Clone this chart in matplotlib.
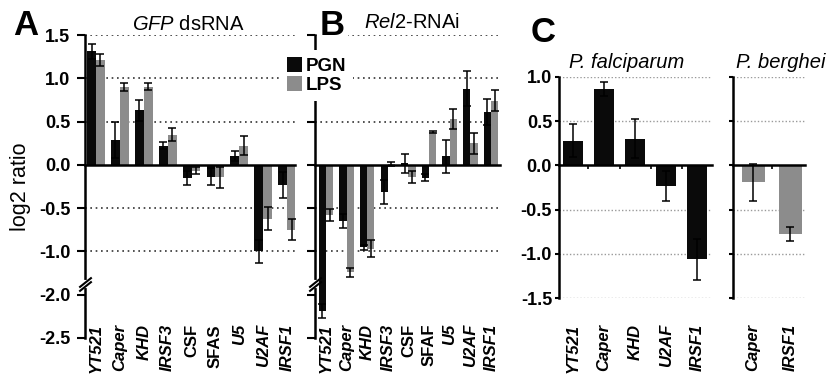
import numpy as np
import matplotlib
matplotlib.use('Agg')
import matplotlib.pyplot as plt
from matplotlib import transforms
from matplotlib.patches import Patch

plt.rcParams['font.family'] = ['Liberation Sans', 'DejaVu Sans']
plt.rcParams['mathtext.fontset'] = 'custom'
plt.rcParams['mathtext.rm'] = 'Liberation Sans'
plt.rcParams['mathtext.it'] = 'Liberation Sans:italic'
plt.rcParams['mathtext.bf'] = 'Liberation Sans:bold'
plt.rcParams['axes.unicode_minus'] = False

# ---------------- data ----------------
genes_a = ['YT521', 'Caper', 'KHD', 'IRSF3', 'CSF', 'SFAS', 'U5', 'U2AF', 'IRSF1']
italic_a = [True, True, True, True, False, False, True, True, True]
pgn_a = [1.31, 0.29, 0.63, 0.22, -0.15, -0.135, 0.10, -1.00, -0.23]
pgn_a_err = [0.09, 0.21, 0.12, 0.04, 0.08, 0.10, 0.06, 0.13, 0.15]
lps_a = [1.21, 0.90, 0.90, 0.35, -0.07, -0.145, 0.22, -0.62, -0.75]
lps_a_err = [0.07, 0.05, 0.04, 0.07, 0.04, 0.125, 0.11, 0.13, 0.12]

genes_b = ['YT521', 'Caper', 'KHD', 'IRSF3', 'CSF', 'SFAF', 'U5', 'U2AF', 'IRSF1']
italic_b = [True, True, True, True, False, False, True, True, True]
pgn_b = [-2.19, -0.65, -0.95, -0.31, 0.02, -0.15, 0.10, 0.88, 0.61]
pgn_b_err = [0.08, 0.08, 0.03, 0.14, 0.11, 0.04, 0.19, 0.20, 0.15]
lps_b = [-0.58, -1.24, -0.97, 0.01, -0.14, 0.38, 0.53, 0.25, 0.74]
lps_b_err = [0.07, 0.05, 0.10, 0.02, 0.07, 0.01, 0.12, 0.12, 0.12]

genes_pf = ['YT521', 'Caper', 'KHD', 'U2AF', 'IRSF1']
pgn_pf = [0.28, 0.86, 0.30, -0.23, -1.06]
pgn_pf_err = [0.19, 0.08, 0.22, 0.17, 0.23]

genes_pb = ['Caper', 'IRSF1']
lps_pb = [-0.19, -0.77]
lps_pb_err = [0.21, 0.08]

yticks_ab = [1.5, 1.0, 0.5, 0.0, -0.5, -1.0, -2.0, -2.5]
grid_ab = [1.5, 1.0, 0.5, -0.5, -1.0]
yticks_c = [1.0, 0.5, 0.0, -0.5, -1.0, -1.5]
grid_c = [1.0, 0.5, -0.5, -1.0, -1.5]

BLACK = '#0a0a0a'
GRAY = '#8c8c8c'

# broken-axis scale: values below the break are shifted up by 0.5
BRK = -1.35
S = 0.1
L = 0.5 / (1 - S)


def fwd(v):
    v = np.asarray(v, dtype=float)
    return np.where(v >= BRK, v,
                    np.where(v >= BRK - L, BRK + (v - BRK) * S, v + 0.5))


def inv(d):
    d = np.asarray(d, dtype=float)
    return np.where(d >= BRK, d,
                    np.where(d >= BRK - S * L, BRK + (d - BRK) / S, d - 0.5))


W, H = 829, 382
fig = plt.figure(figsize=(W / 100, H / 100), dpi=100)


def rect(x0, y_top, x1, y_bot):
    return [x0 / W, 1 - y_bot / H, (x1 - x0) / W, (y_bot - y_top) / H]


ax_a = fig.add_axes(rect(85, 35, 295, 338))
ax_b = fig.add_axes(rect(315, 35, 500, 338))
ax_pf = fig.add_axes(rect(559, 76.7, 712, 298.3))
ax_pb = fig.add_axes(rect(733, 76.7, 805, 298.3))

err_kw = dict(ecolor='black', elinewidth=1.1, capsize=3, capthick=1.1)
LAB_Y = 1 - 324 / H


def grouped(ax, genes, italic, pgn, pgn_err, lps, lps_err, w, xlim, labels):
    x = np.arange(len(genes))
    ax.set_yscale('function', functions=(fwd, inv))
    for g in grid_ab:
        ax.axhline(g, color='#333333', lw=1.2, ls=(0, (1, 2.2)), zorder=0.5)
    ax.bar(x - w / 2, pgn, w, color=BLACK, yerr=pgn_err, error_kw=err_kw, zorder=1)
    ax.bar(x + w / 2, lps, w, color=GRAY, yerr=lps_err, error_kw=err_kw, zorder=1)
    ax.set_xlim(*xlim)
    ax.set_ylim(-2.5, 1.5)
    ax.set_yticks(yticks_ab)
    if labels:
        ax.set_yticklabels(['%.1f' % t for t in yticks_ab], fontsize=13, fontweight='bold')
    else:
        ax.set_yticklabels([])
    ax.tick_params(axis='y', direction='out', length=5.5, width=1.5, pad=5)
    ax.spines['top'].set_visible(False)
    ax.spines['right'].set_visible(False)
    ax.spines['bottom'].set_position(('data', 0))
    ax.spines['bottom'].set_linewidth(1.8)
    ax.spines['left'].set_linewidth(1.8)
    ax.set_xticks([])
    ax.patch.set_alpha(0)
    tr = transforms.blended_transform_factory(ax.transData, fig.transFigure)
    for i, (g, it) in enumerate(zip(genes, italic)):
        ax.text(i, LAB_Y, g, transform=tr, rotation=90, va='top', ha='center',
                fontsize=12, fontweight='bold', fontstyle='italic' if it else 'normal')
    # break marks on the y axis
    trb = transforms.blended_transform_factory(ax.transAxes, ax.transData)
    ax.plot([0, 0], [-1.38, -1.9], transform=trb, color='white', lw=3,
            clip_on=False, zorder=3)
    for yb in (-1.40, -1.85):
        ax.plot([0], [yb], transform=trb, marker=[(-1, -0.8), (1, 0.8)], ms=9,
                mec='black', mew=1.5, ls='none', clip_on=False, zorder=4)


grouped(ax_a, genes_a, italic_a, pgn_a, pgn_a_err, lps_a, lps_a_err,
        0.37, (-0.46, 8.33), True)
grouped(ax_b, genes_b, italic_b, pgn_b, pgn_b_err, lps_b, lps_b_err,
        0.35, (-0.53, 8.44), False)
ax_a.set_ylabel('log2 ratio', fontsize=15.5, labelpad=6)


def single(ax, genes, vals, errs, color, xlim, labels):
    x = np.arange(len(genes))
    for g in grid_c:
        ax.axhline(g, color='#9a9a9a', lw=1.0, ls=(0, (1, 1.5)), zorder=0.5)
    ax.bar(x, vals, 0.62, color=color, yerr=errs, error_kw=err_kw, zorder=1)
    ax.set_xlim(*xlim)
    ax.set_ylim(-1.5, 1.0)
    ax.set_yticks(yticks_c)
    if labels:
        ax.set_yticklabels(['%.1f' % t for t in yticks_c], fontsize=13, fontweight='bold')
    else:
        ax.set_yticklabels([])
    ax.tick_params(axis='y', direction='out', length=3, width=1.5, pad=2)
    ax.spines['top'].set_visible(False)
    ax.spines['right'].set_visible(False)
    ax.spines['bottom'].set_position(('data', 0))
    ax.spines['bottom'].set_linewidth(1.8)
    ax.spines['left'].set_linewidth(1.8)
    ax.set_xticks(x[:-1] + 0.5)
    ax.set_xticklabels([])
    ax.tick_params(axis='x', direction='out', length=3, width=1.2)
    ax.patch.set_alpha(0)
    tr = transforms.blended_transform_factory(ax.transData, fig.transFigure)
    for i, g in enumerate(genes):
        ax.text(i, LAB_Y, g, transform=tr, rotation=90, va='top', ha='center',
                fontsize=12, fontweight='bold', fontstyle='italic')


single(ax_pf, genes_pf, pgn_pf, pgn_pf_err, BLACK, (-0.45, 4.48), True)
single(ax_pb, genes_pb, lps_pb, lps_pb_err, GRAY, (-0.54, 1.4), False)

# panel letters and titles
fig.text(13 / W, 1 - 35 / H, 'A', fontsize=25, fontweight='bold', va='baseline')
fig.text(320 / W, 1 - 35 / H, 'B', fontsize=25, fontweight='bold', va='baseline',
         bbox=dict(facecolor='white', edgecolor='none', pad=2))
fig.text(531 / W, 1 - 42 / H, 'C', fontsize=25, fontweight='bold', va='baseline')
fig.text(188 / W, 1 - 30 / H, r'$\mathit{GFP}$ dsRNA', fontsize=14.5, ha='center', va='baseline')
fig.text(412 / W, 1 - 28 / H, r'$\mathit{Rel2}$-RNAi', fontsize=14.5, ha='center', va='baseline')
fig.text(627 / W, 1 - 68 / H, 'P. falciparum', fontsize=14.5, fontstyle='italic',
         ha='center', va='baseline')
fig.text(781 / W, 1 - 68 / H, 'P. berghei', fontsize=14.5, fontstyle='italic',
         ha='center', va='baseline')

handles = [Patch(facecolor=BLACK, edgecolor='none'), Patch(facecolor=GRAY, edgecolor='none')]
leg = fig.legend(handles, ['PGN', 'LPS'], loc='upper left',
                 bbox_to_anchor=(280 / W, 1 - 50 / H), frameon=True, fancybox=False,
                 framealpha=1, edgecolor='none', facecolor='white',
                 prop=dict(size=13.5, weight='bold'), handlelength=0.85, handleheight=0.85,
                 handletextpad=0.2, labelspacing=0.1, borderpad=0.35, borderaxespad=0)

fig.savefig('out.png', dpi=100)
